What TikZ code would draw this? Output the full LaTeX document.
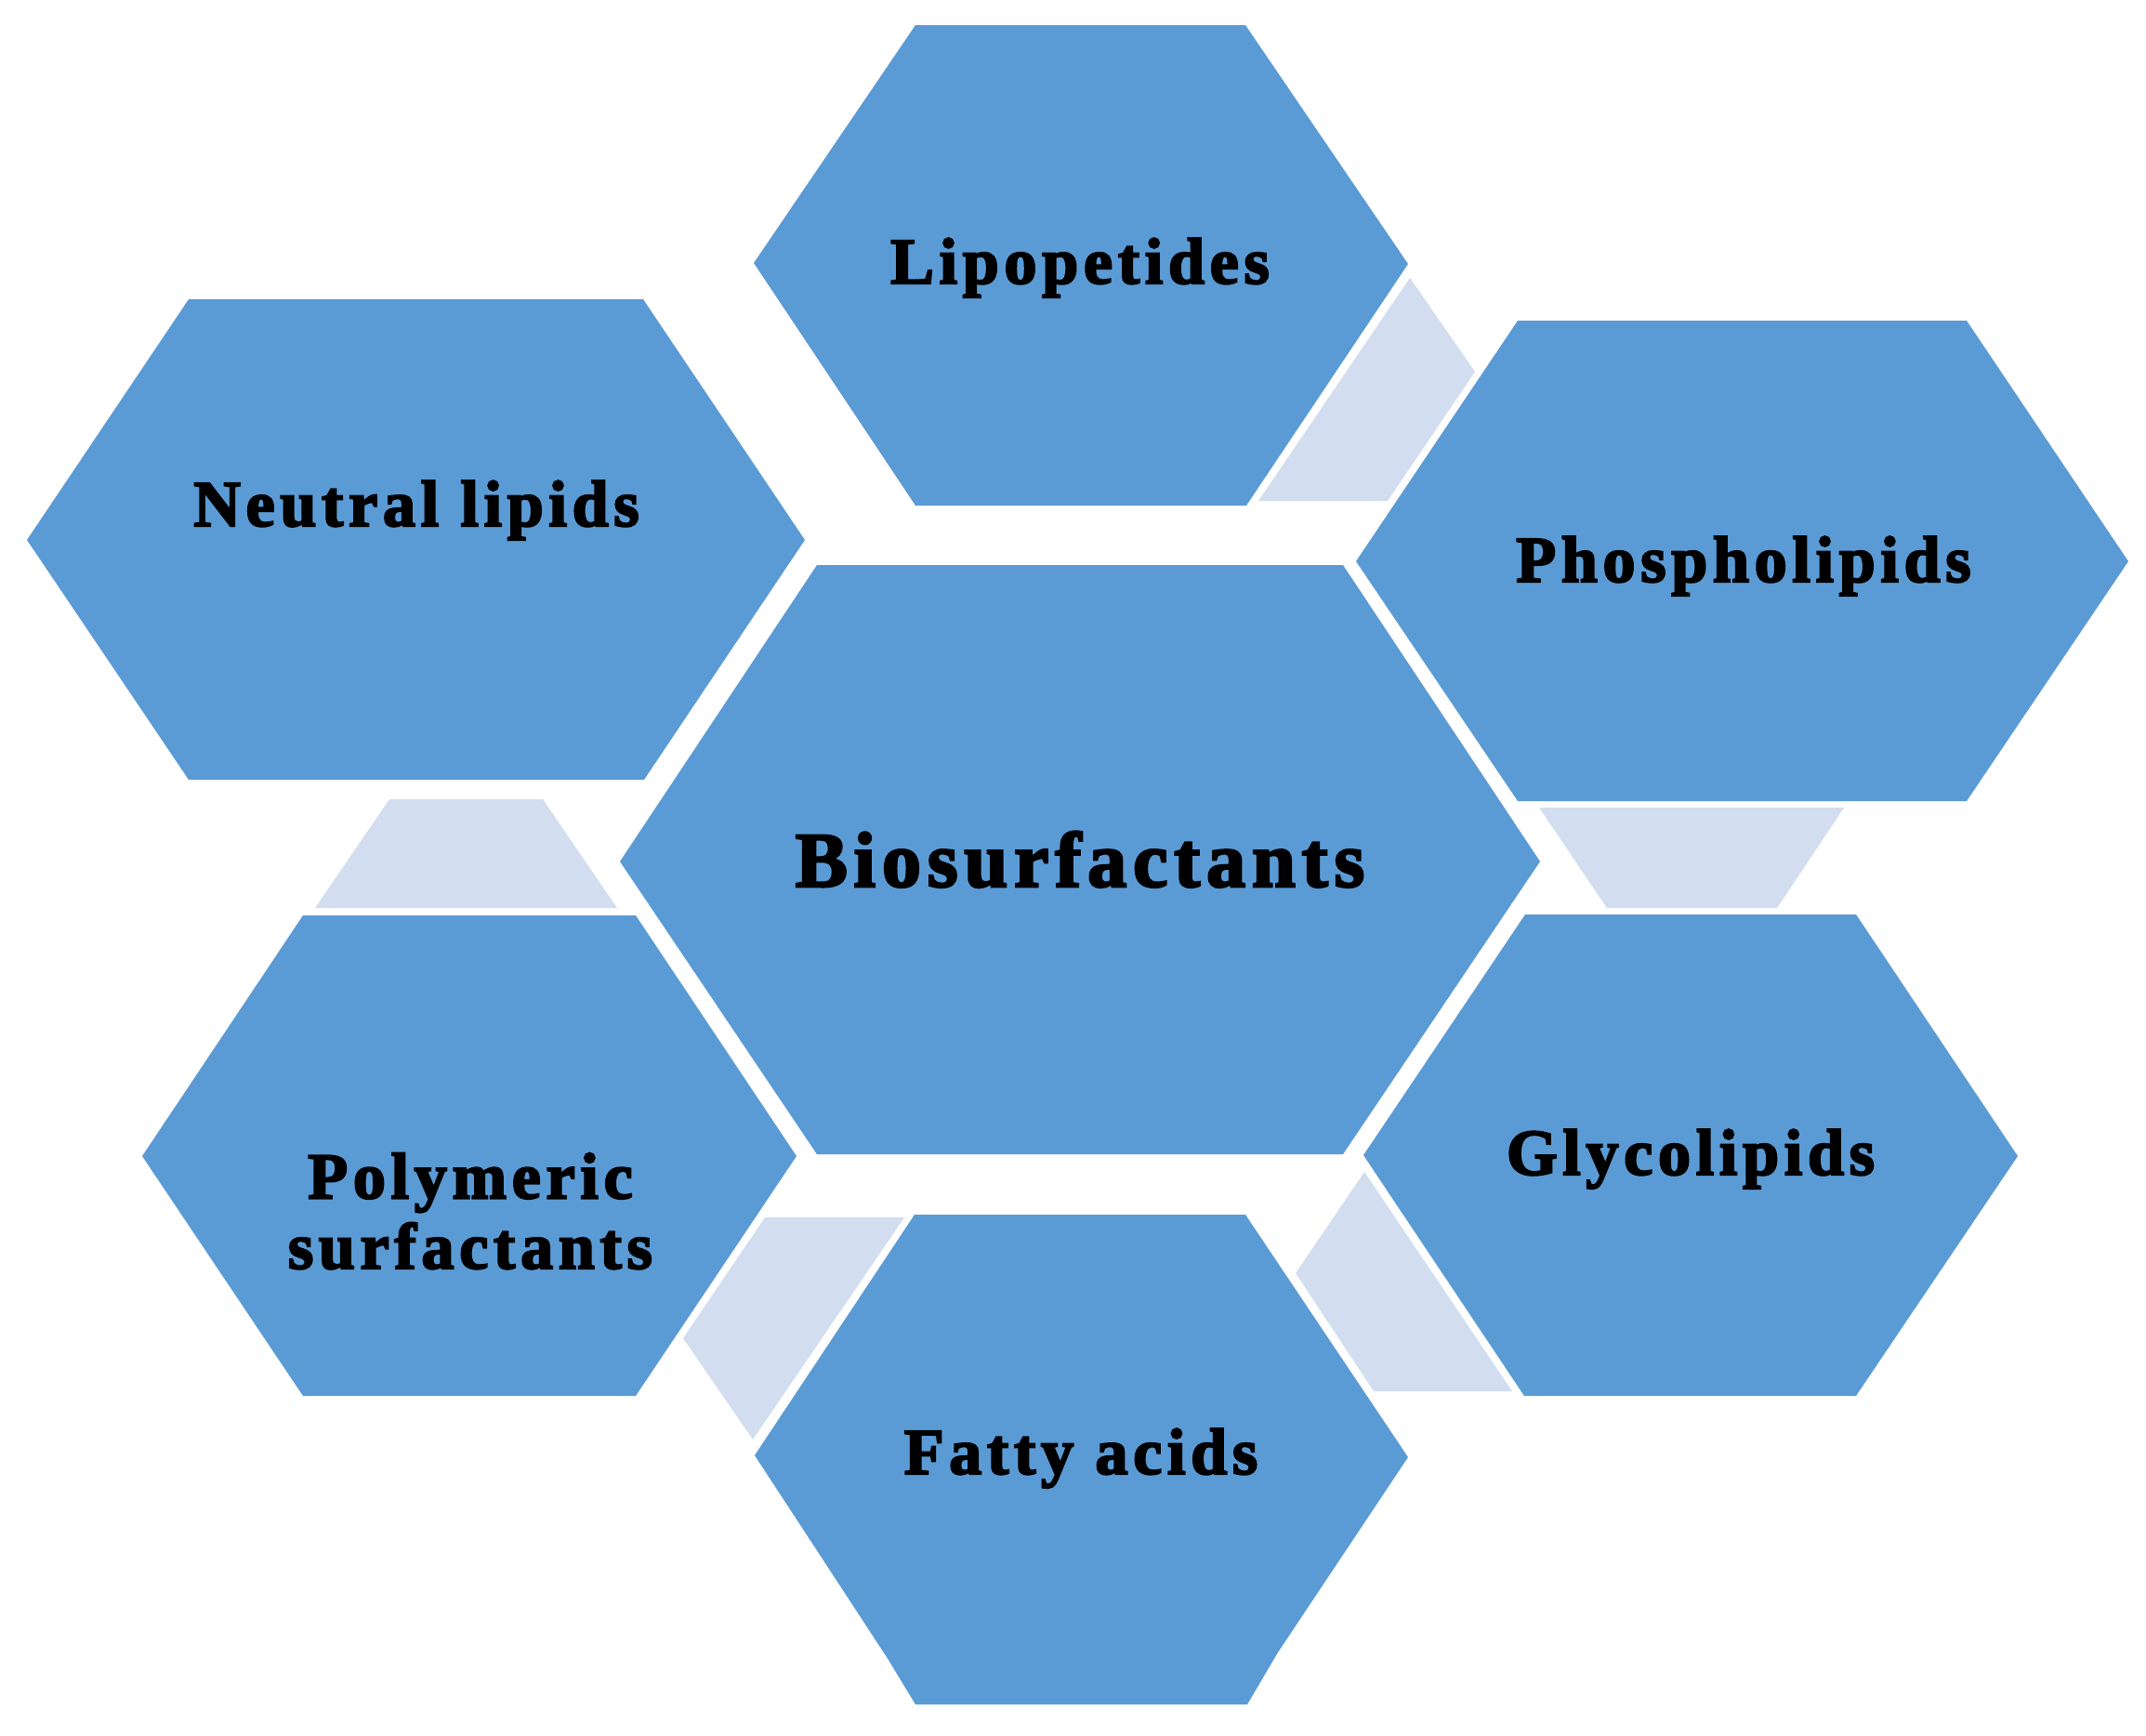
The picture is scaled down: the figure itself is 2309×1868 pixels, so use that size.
\documentclass[tikz,border=0pt]{standalone}
\usepackage{fontspec}
\setmainfont{Liberation Serif}
\newfontfamily\lblfont{Liberation Serif}[LetterSpace=8,FakeBold=3]
\definecolor{hexblue}{HTML}{5B9BD5}
\definecolor{linkblue}{HTML}{D2DEEF}
\tikzset{
  hexfill/.style={fill=hexblue},
  linkfill/.style={fill=linkblue},
  lbl/.style={font=\lblfont\bfseries\fontsize{20}{21.5}\selectfont, text=black, anchor=base, inner sep=0pt, align=center},
  biglbl/.style={font=\lblfont\bfseries\fontsize{24}{26}\selectfont, text=black, anchor=base, inner sep=0pt}
}
\begin{document}
\begin{tikzpicture}[x=0.1mm,y=-0.1mm]
\useasboundingbox (0,0) rectangle (2309,1868);
\fill[white] (0,0) rectangle (2309,1868);
% link shapes
\fill[linkfill] (1517,299) -- (1587,400) -- (1493,539) -- (1354,539) -- cycle;
\fill[linkfill] (1656,869) -- (1984,869) -- (1912,977) -- (1729,977) -- cycle;
\fill[linkfill] (1468,1261) -- (1627,1497) -- (1478,1497) -- (1394,1370) -- cycle;
\fill[linkfill] (823,1310) -- (973,1310) -- (810,1549) -- (735,1440) -- cycle;
\fill[linkfill] (419,860) -- (584,860) -- (664,977) -- (339,977) -- cycle;
% hexagons
\fill[hexfill] (667,927) -- (879,608) -- (1445,608) -- (1657,927) -- (1445,1242) -- (879,1242) -- cycle;
\fill[hexfill] (811,283) -- (985,27) -- (1340,27) -- (1515,284) -- (1341,544) -- (985,544) -- cycle;
\fill[hexfill] (29,581) -- (203,322) -- (692,322) -- (866,581) -- (693,839) -- (203,839) -- cycle;
\fill[hexfill] (1459,604) -- (1633,345) -- (2116,345) -- (2290,604) -- (2116,862) -- (1633,862) -- cycle;
\fill[hexfill] (1467,1243) -- (1641,984) -- (1997,984) -- (2171,1244) -- (1997,1502) -- (1640,1502) -- cycle;
\fill[hexfill] (153,1244) -- (326,985) -- (684,985) -- (857,1244) -- (684,1502) -- (326,1502) -- cycle;
\fill[hexfill] (812,1566) -- (984,1307) -- (1340,1307) -- (1515,1568) -- (1375,1778) -- (1342,1834) -- (985,1834) -- (954,1783) -- cycle;
% labels
\node[biglbl] (bio) at (1162,954) {Biosurfactants};
\node[lbl] (lipo) at (1162,305) {Lipopetides};
\node[lbl] (neut) at (448,566) {Neutral lipids};
\node[lbl] (phos) at (1876,626) {Phospholipids};
\node[lbl] (glyc) at (1819,1264) {Glycolipids};
\node[lbl] (poly) at (506,1365) {Polymeric\\surfactants};
\node[lbl] (fatt) at (1163,1586) {Fatty acids};
\end{tikzpicture}
\end{document}
